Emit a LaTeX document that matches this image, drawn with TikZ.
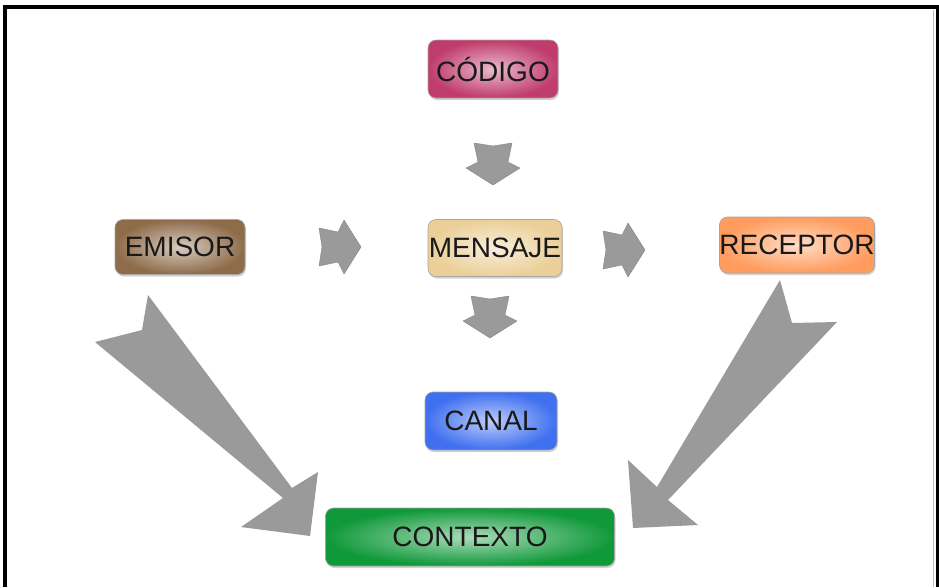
\documentclass[tikz,border=0pt]{standalone}
\usepackage{fontspec}
\setmainfont{Liberation Sans}
\usepackage{tikz}
\usetikzlibrary{calc,positioning,shadows}

\definecolor{codigoc}{HTML}{C03C6C}
\definecolor{emisorc}{HTML}{8E6C4A}
\definecolor{mensajec}{HTML}{EBCF98}
\definecolor{receptorc}{HTML}{FF9C5E}
\definecolor{canalc}{HTML}{4070F0}
\definecolor{contextoc}{HTML}{10993A}
\definecolor{arrowc}{HTML}{9A9A9A}

\begin{document}
\begin{tikzpicture}[x=1pt,y=-1pt]
  \useasboundingbox (0,0) rectangle (939,587);
  \fill[white] (0,0) rectangle (939,587);
  % frame
  \draw[line width=4pt] (5,587) -- (5,7) -- (938,7) -- (938,587);
  \draw[black!25, line width=0.8pt] (933.5,10) -- (933.5,587);
  \tikzstyle{box}=[rounded corners=8pt, draw=black!35, line width=0.6pt,
    inner sep=0pt, font=\fontsize{28}{30}\selectfont, text=black!90,
    drop shadow={shadow xshift=1pt, shadow yshift=-2pt, opacity=0.35}]
  \tikzstyle{flecha}=[fill=arrowc, draw=arrowc!85!black, line width=0.4pt, line join=round]
  \foreach \n/\t/\x/\y/\w/\h in {codigo/CÓDIGO/493/69/130/58, emisor/EMISOR/180/247/130/55,
      mensaje/MENSAJE/495/248/134/57, receptor/RECEPTOR/797/245/155/56,
      canal/CANAL/491/421/132/58, contexto/CONTEXTO/470/537/289/58}{
    \node[box, minimum width=\w pt, minimum height=\h pt,
      inner color=\n c!35!white, outer color=\n c] (\n) at (\x,\y) {\t};
  }
  % small arrows
  \foreach \x/\y/\a in {340/247/0, 624/250/0, 493/164/-90, 490/317/-90}{
    \draw[flecha, shift={(\x,\y)}, rotate=\a]
      (-21,-19) -- (-2,-15) -- (4,-27) -- (21,0) -- (4,27) -- (-2,15) -- (-21,19) -- (-18,0) -- cycle;
  }
  % big arrows
  \fill[arrowc] (148,295) -- (142,330) -- (95,342) -- (283,498) -- (241,527)
    -- (310,536) -- (318,472) -- (292,488) -- cycle;
  \fill[arrowc] (780,280) -- (792,323) -- (837,322) -- (668,500) -- (698,525)
    -- (633,528) -- (628,460) -- (657,487) -- cycle;
\end{tikzpicture}
\end{document}
